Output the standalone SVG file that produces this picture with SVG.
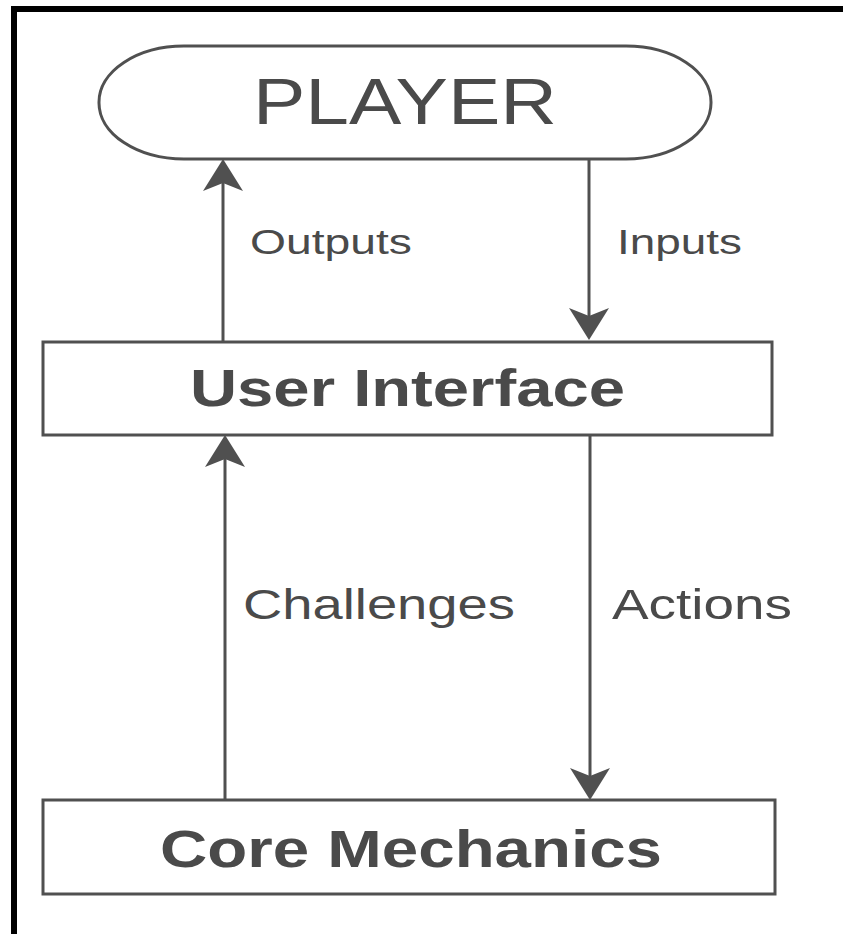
<svg xmlns="http://www.w3.org/2000/svg" width="843" height="934" viewBox="0 0 843 934">
  <style>
    .shape { fill: #ffffff; stroke: #505050; stroke-width: 3; }
    .wire { fill: none; stroke: #505050; stroke-width: 3; marker-end: url(#head); }
    .label { font-family: "Liberation Sans", Arial, sans-serif; fill: #4a4a4a; }
    .title { font-family: "Liberation Sans", Arial, sans-serif; fill: #4a4a4a; font-weight: bold; }
  </style>
  <defs>
    <marker id="head" markerUnits="userSpaceOnUse" markerWidth="36" markerHeight="42" viewBox="0 0 36 42" refX="23" refY="21" orient="auto">
      <path d="M33,21 L1,1 L9,21 L1,41 Z" fill="#505050"/>
    </marker>
  </defs>

  <rect x="0" y="0" width="843" height="934" fill="#ffffff"/>

  <!-- frame -->
  <g id="frame">
    <rect x="11" y="6" width="832" height="6" fill="#000000"/>
    <rect x="11" y="6" width="6" height="928" fill="#000000"/>
  </g>

  <!-- connectors -->
  <g id="connectors">
    <line class="wire" x1="223" y1="342" x2="223" y2="169"/>
    <line class="wire" x1="589" y1="159" x2="589" y2="330"/>
    <line class="wire" x1="225" y1="800" x2="225" y2="445"/>
    <line class="wire" x1="590" y1="435" x2="590" y2="790"/>
    <text class="label" x="250" y="254" font-size="35" textLength="162" lengthAdjust="spacingAndGlyphs">Outputs</text>
    <text class="label" x="617" y="254" font-size="35" textLength="125" lengthAdjust="spacingAndGlyphs">Inputs</text>
    <text class="label" x="243" y="619" font-size="42" textLength="272" lengthAdjust="spacingAndGlyphs">Challenges</text>
    <text class="label" x="612" y="619" font-size="42" textLength="180" lengthAdjust="spacingAndGlyphs">Actions</text>
  </g>

  <g id="player">
    <rect class="shape" x="99" y="46" width="612" height="113" rx="85" ry="56"/>
    <text class="label" x="253" y="124" font-size="64" textLength="304" lengthAdjust="spacingAndGlyphs">PLAYER</text>
  </g>

  <g id="user-interface">
    <rect class="shape" x="43" y="342" width="729" height="93"/>
    <text class="title" x="190" y="406" font-size="52" textLength="435" lengthAdjust="spacingAndGlyphs">User Interface</text>
  </g>

  <g id="core-mechanics">
    <rect class="shape" x="43" y="800" width="732" height="94"/>
    <text class="title" x="160" y="867" font-size="51" textLength="502" lengthAdjust="spacingAndGlyphs">Core Mechanics</text>
  </g>
</svg>
